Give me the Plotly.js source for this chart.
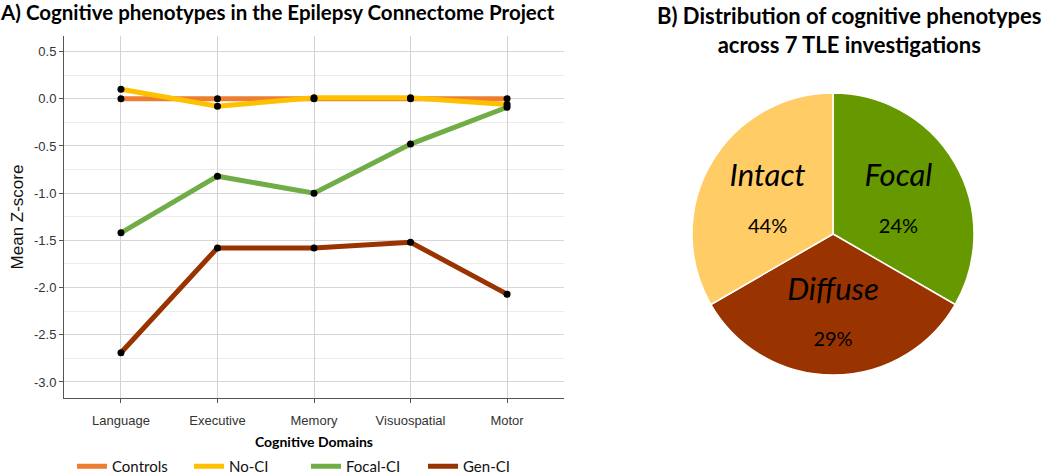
<!DOCTYPE html>
<html>
<head>
<meta charset="utf-8">
<script src="https://cdn.plot.ly/plotly-3.0.1.min.js"></script>
<style>html,body{margin:0;padding:0;background:#fff;}#chart{width:1050px;height:474px;}</style>
</head>
<body>
<div id="chart"></div>
<script>
// ---- data ----
const domains = ['Language', 'Executive', 'Memory', 'Visuospatial', 'Motor'];
const controls = [0.00, 0.00, 0.00, 0.00, 0.00];
const noCI = [0.10, -0.08, 0.01, 0.01, -0.06];
const focalCI = [-1.42, -0.82, -1.00, -0.48, -0.09];
const genCI = [-2.69, -1.58, -1.58, -1.52, -2.07];
const seriesNames = ['Controls', 'No-CI', 'Focal-CI', 'Gen-CI'];
const yTickVals = [0.5, 0.0, -0.5, -1.0, -1.5, -2.0, -2.5, -3.0];
const yTickText = ['0.5', '0.0', '-0.5', '-1.0', '-1.5', '-2.0', '-2.5', '-3.0'];

const phenotypes = ['Focal', 'Diffuse', 'Intact'];
const sliceShares = [33.3, 33.3, 33.3];   // slices are drawn as equal thirds
const phenotypePct = ['24%', '29%', '44%'];

// ---- styles ----
const lineColors = ['#ED7D31', '#FFC000', '#70AD47', '#993300'];
const pieColors = ['#669900', '#993300', '#FFCC66'];
const calibriLike = 'Lato, "Open Sans", sans-serif';
const arialLike = '"Liberation Sans", Arial, sans-serif';

const seriesValues = [controls, noCI, focalCI, genCI];
const traces = [];
seriesValues.forEach((vals, i) => {
  traces.push({
    type: 'scatter', mode: 'lines', x: domains, y: vals, name: seriesNames[i],
    line: {color: lineColors[i], width: 5}, xaxis: 'x', yaxis: 'y', hoverinfo: 'skip'
  });
});
seriesValues.forEach((vals, i) => {
  traces.push({
    type: 'scatter', mode: 'markers', x: domains, y: vals, showlegend: false,
    marker: {color: '#000', size: 7}, xaxis: 'x', yaxis: 'y'
  });
});

traces.push({
  type: 'pie', labels: phenotypes, values: sliceShares, sort: false,
  direction: 'clockwise', rotation: 0,
  marker: {colors: pieColors, line: {color: '#ffffff', width: 1.5}},
  text: phenotypes.map((p, i) => '<span style="font-size:31px"><i>' + p + '</i></span><br><br><span style="font-size:20px">' + phenotypePct[i] + '</span>'),
  textinfo: 'text', textposition: 'inside', insidetextorientation: 'horizontal',
  textfont: {family: calibriLike, size: 18, color: '#000'},
  domain: {x: [692 / 1050, 974 / 1050], y: [1 - 375 / 474, 1 - 93 / 474]},
  showlegend: false, hoverinfo: 'label+text'
});

const layout = {
  width: 1050, height: 474,
  margin: {l: 0, r: 0, t: 0, b: 0, autoexpand: false},
  paper_bgcolor: '#fff', plot_bgcolor: '#fff',
  font: {family: arialLike, color: '#222'},
  title: {
    text: '<b>A) Cognitive phenotypes in the Epilepsy Connectome Project</b>',
    x: 0.001, xanchor: 'left', y: 1 - 13 / 474, yanchor: 'middle',
    font: {family: calibriLike, size: 20.5, color: '#000'}
  },
  xaxis: {
    domain: [64 / 1050, 564 / 1050], type: 'category', range: [-0.59, 4.59],
    showgrid: true, gridcolor: '#d2d2d2', gridwidth: 1,
    showline: true, linecolor: '#555', linewidth: 1,
    ticks: 'outside', ticklen: 4, tickcolor: '#555', ticklabelstandoff: 6,
    tickfont: {family: arialLike, size: 13, color: '#333'},
    zeroline: false,
    title: {text: '<b>Cognitive Domains</b>', standoff: 10, font: {family: calibriLike, size: 14, color: '#000'}}
  },
  yaxis: {
    domain: [1 - 398 / 474, 1 - 36 / 474], range: [-3.17, 0.665],
    tickvals: yTickVals, ticktext: yTickText,
    showgrid: true, gridcolor: '#d6d6d6', gridwidth: 1,
    minor: {dtick: 0.25, tick0: 0, showgrid: true, gridcolor: '#ececec', gridwidth: 1},
    showline: true, linecolor: '#555', linewidth: 1,
    ticks: 'outside', ticklen: 4, tickcolor: '#555',
    tickfont: {family: arialLike, size: 13, color: '#333'},
    zeroline: false,
    title: {text: 'Mean Z-score', standoff: 6, font: {family: arialLike, size: 17, color: '#111'}}
  },
  legend: {
    orientation: 'h', x: 72 / 1050, xanchor: 'left', y: 1 - 450 / 474, yanchor: 'top',
    font: {family: calibriLike, size: 15, color: '#111'},
    entrywidth: 72, entrywidthmode: 'pixels', bgcolor: 'rgba(0,0,0,0)'
  },
  annotations: [{
    text: '<b>B) Distribution of cognitive phenotypes<br>across 7 TLE investigations</b>',
    xref: 'paper', yref: 'paper', x: 849 / 1050, y: 1 - 30 / 474,
    xanchor: 'center', yanchor: 'middle', showarrow: false,
    font: {family: calibriLike, size: 22, color: '#000'}
  }],
  showlegend: true
};

Plotly.newPlot('chart', traces, layout, {displayModeBar: false, staticPlot: true});
</script>
</body>
</html>
